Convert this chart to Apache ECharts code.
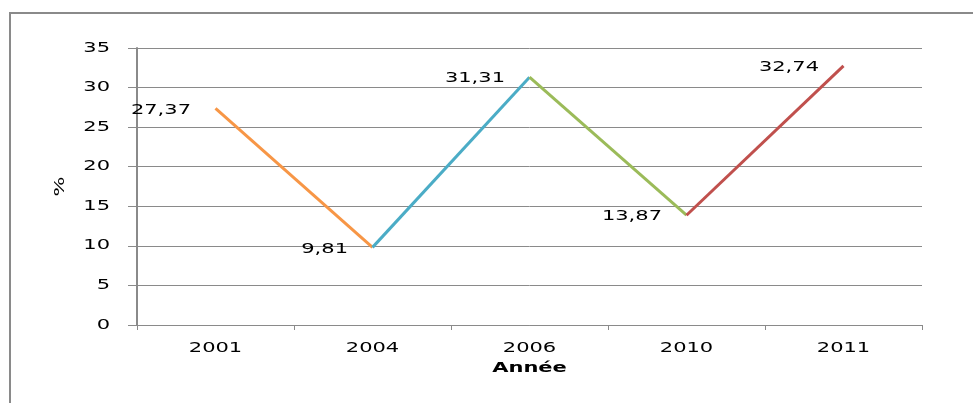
<!DOCTYPE html>
<html>
<head>
<meta charset="utf-8">
<script src="https://cdn.jsdelivr.net/npm/echarts@6/dist/echarts.min.js"></script>
<style>
  html, body { margin: 0; padding: 0; background: #fff; }
  #chart { width: 973px; height: 403px; }
</style>
</head>
<body>
<div id="chart"></div>
<script>
// Survey years and percentages
const years = ['2001', '2004', '2006', '2010', '2011'];
const values = [27.37, 9.81, 31.31, 13.87, 32.74];
const yTicks = [0, 5, 10, 15, 20, 25, 30, 35];
const segmentColors = ['#F79646', '#4BACC6', '#9BBB59', '#C0504D'];

const FONT = 'DejaVu Sans';
const FONT_SIZE = 14;
const GRID_COLOR = '#8a8a8a';

// Wide lettering: every text run is stretched horizontally about its own anchor,
// so right / centre / left alignment stays where the layout put it.
const TEXT_STRETCH = 1.5;
(function () {
  const proto = CanvasRenderingContext2D.prototype;
  const baseFill = proto.fillText;
  const baseStroke = proto.strokeText;
  proto.fillText = function (text, x, y, maxWidth) {
    this.save();
    this.translate(x, y);
    this.scale(TEXT_STRETCH, 1);
    maxWidth === undefined ? baseFill.call(this, text, 0, 0) : baseFill.call(this, text, 0, 0, maxWidth);
    this.restore();
  };
  proto.strokeText = function (text, x, y, maxWidth) {
    this.save();
    this.translate(x, y);
    this.scale(TEXT_STRETCH, 1);
    maxWidth === undefined ? baseStroke.call(this, text, 0, 0) : baseStroke.call(this, text, 0, 0, maxWidth);
    this.restore();
  };
})();

// One series per segment so each leg of the line has its own colour
const segmentSeries = segmentColors.map((color, i) => ({
  type: 'line',
  data: values.map((v, j) => (j === i || j === i + 1) ? v : '-'),
  symbol: 'none',
  lineStyle: { color: color, width: 3 },
  z: 3,
  silent: true
}));

// Value labels drawn from the same values
const labelSeries = {
  type: 'line',
  data: values,
  symbol: 'circle',
  symbolSize: 1,
  itemStyle: { color: 'rgba(0,0,0,0)' },
  lineStyle: { width: 0, color: 'rgba(0,0,0,0)' },
  label: {
    show: true,
    position: 'left',
    distance: 24,
    offset: [0, 1.5],
    fontFamily: FONT,
    fontSize: FONT_SIZE,
    color: '#000',
    formatter: p => p.value.toFixed(2).replace('.', ',')
  },
  z: 4,
  silent: true
};

const chart = echarts.init(document.getElementById('chart'), null, { renderer: 'canvas' });
chart.setOption({
  animation: false,
  backgroundColor: '#fff',
  grid: { left: 137, right: 51, top: 48, bottom: 78 },
  xAxis: {
    type: 'category',
    data: years,
    boundaryGap: true,
    name: 'Année',
    nameLocation: 'middle',
    nameGap: 36,
    nameTextStyle: { fontFamily: FONT, fontSize: FONT_SIZE, fontWeight: 'bold', color: '#000' },
    axisLine: { lineStyle: { color: GRID_COLOR, width: 1 } },
    axisTick: { show: true, length: 5, interval: 0, lineStyle: { color: GRID_COLOR } },
    axisLabel: { margin: 16, fontFamily: FONT, fontSize: FONT_SIZE, color: '#000' }
  },
  yAxis: {
    type: 'value',
    min: yTicks[0],
    max: yTicks[yTicks.length - 1],
    interval: 5,
    name: '%',
    nameLocation: 'middle',
    nameRotate: 90,
    nameGap: 70,
    nameTextStyle: { fontFamily: FONT, fontSize: FONT_SIZE, color: '#000' },
    axisLine: { show: true, lineStyle: { color: GRID_COLOR, width: 2 } },
    axisTick: { show: true, length: 9, lineStyle: { color: GRID_COLOR } },
    splitLine: { show: true, lineStyle: { color: GRID_COLOR, width: 1 } },
    axisLabel: { margin: 27, fontFamily: FONT, fontSize: FONT_SIZE, color: '#000' }
  },
  graphic: [
    // chart frame (left and top edges visible)
    {
      type: 'rect',
      shape: { x: 10, y: 13, width: 1000, height: 420 },
      style: { fill: null, stroke: '#8a8a8a', lineWidth: 2 },
      silent: true
    }
  ],
  series: [...segmentSeries, labelSeries]
});
</script>
</body>
</html>
